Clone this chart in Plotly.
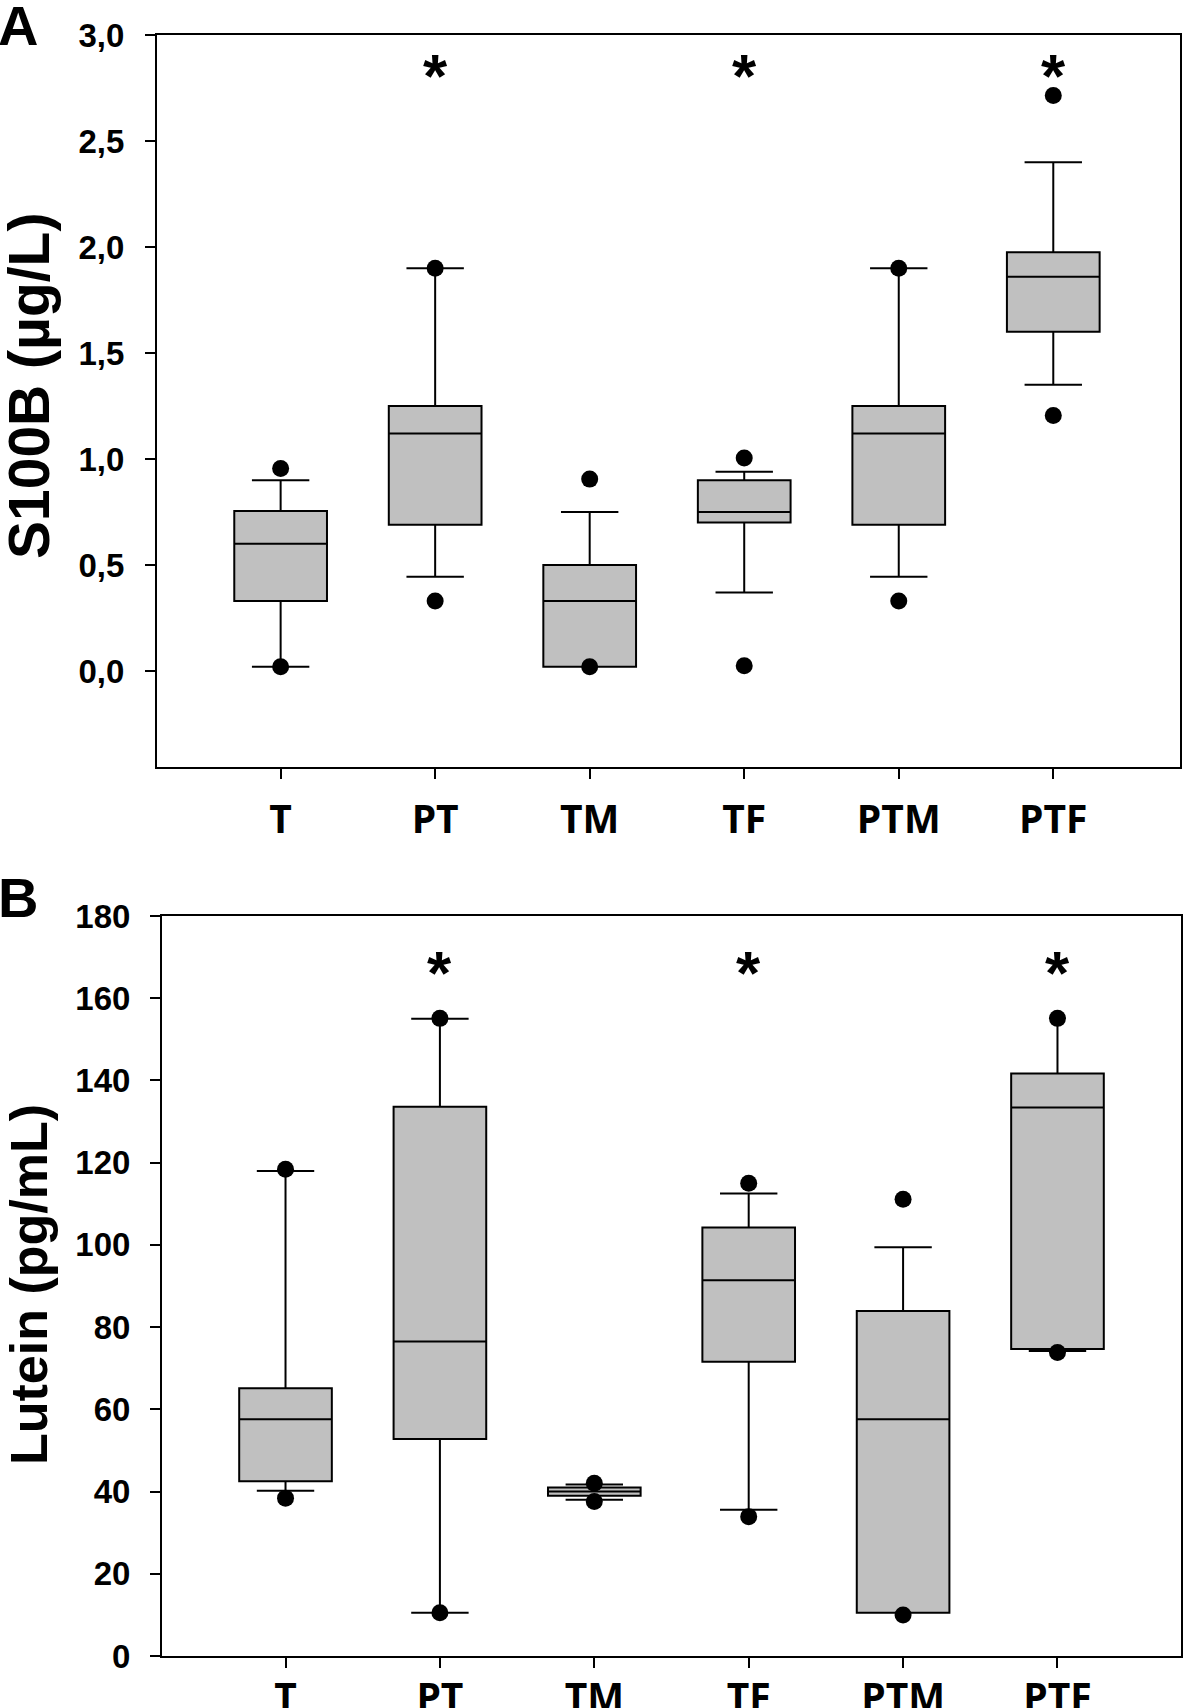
import plotly.graph_objects as go

# ---------------- data ----------------
groups = ["T", "PT", "TM", "TF", "PTM", "PTF"]

# Panel A: S100B (µg/L)
a_q1 = [0.33, 0.69, 0.02, 0.70, 0.69, 1.60]
a_med = [0.60, 1.12, 0.33, 0.75, 1.12, 1.86]
a_q3 = [0.755, 1.25, 0.50, 0.90, 1.25, 1.975]
a_lo = [0.02, 0.445, 0.02, 0.37, 0.445, 1.35]
a_hi = [0.90, 1.90, 0.75, 0.94, 1.90, 2.40]
a_cap_lo = [0.02, 0.445, None, 0.37, 0.445, 1.35]
a_cap_hi = [0.90, 1.90, 0.75, 0.94, 1.90, 2.40]
a_out = [[0.955, 0.02], [1.90, 0.33], [0.905, 0.02], [1.005, 0.025], [1.90, 0.33], [2.715, 1.205]]
a_sig = ["PT", "TF", "PTF"]
a_sig_level = 2.85
a_ticks = [0, 0.5, 1.0, 1.5, 2.0, 2.5, 3.0]
a_ticktext = ["0,0", "0,5", "1,0", "1,5", "2,0", "2,5", "3,0"]

# Panel B: Lutein (pg/mL)
b_q1 = [42.5, 52.8, 39.0, 71.6, 10.5, 74.7]
b_med = [57.6, 76.5, 40.0, 91.4, 57.6, 133.4]
b_q3 = [65.1, 133.6, 41.0, 104.2, 83.9, 141.7]
b_lo = [40.2, 10.5, 38.0, 35.6, 10.5, 74.2]
b_hi = [118.0, 155.0, 41.7, 112.5, 99.4, 155.1]
b_cap_lo = [40.2, 10.5, 38.0, 35.6, None, 74.2]
b_cap_hi = [118.0, 155.0, 41.7, 112.5, 99.4, None]
b_out = [[118.4, 38.4], [155.1, 10.5], [42.0, 37.6], [115.0, 33.9], [111.1, 10.0], [155.1, 73.8]]
b_sig = ["PT", "TF", "PTF"]
b_sig_level = 168.5
b_ticks = [0, 20, 40, 60, 80, 100, 120, 140, 160, 180]

# ---------------- layout helpers ----------------
W, H = 1184, 1708
def fx(p):
    return p / W
def fy(p):
    return 1 - p / H

NUM_FONT = "Liberation Sans, Arial, sans-serif"
CAT_FONT = "Open Sans, Liberation Sans, sans-serif"
FILL = "#c0c0c0"

fig = go.Figure()

def add_panel(xa, ya, q1, med, q3, lo, hi, cap_lo, cap_hi, outs):
    fig.add_trace(go.Box(
        x=groups, q1=q1, median=med, q3=q3, lowerfence=lo, upperfence=hi,
        width=0.6, fillcolor=FILL, line=dict(color="black", width=2),
        boxpoints=False, whiskerwidth=0, xaxis=xa, yaxis=ya,
        showlegend=False, hoverinfo="skip"))
    cx, cy = [], []
    for g, v in list(zip(groups, cap_lo)) + list(zip(groups, cap_hi)):
        if v is not None:
            cx.append(g)
            cy.append(v)
    fig.add_trace(go.Scatter(
        x=cx, y=cy, mode="markers", xaxis=xa, yaxis=ya,
        marker=dict(symbol="line-ew", size=41, color="black",
                    line=dict(color="black", width=2)),
        showlegend=False, hoverinfo="skip"))
    ox, oy = [], []
    for g, vals in zip(groups, outs):
        for v in vals:
            ox.append(g)
            oy.append(v)
    fig.add_trace(go.Scatter(
        x=ox, y=oy, mode="markers", xaxis=xa, yaxis=ya,
        marker=dict(symbol="circle", size=17, color="black", line=dict(width=0)),
        showlegend=False, hoverinfo="skip"))

add_panel("x", "y", a_q1, a_med, a_q3, a_lo, a_hi, a_cap_lo, a_cap_hi, a_out)
add_panel("x2", "y2", b_q1, b_med, b_q3, b_lo, b_hi, b_cap_lo, b_cap_hi, b_out)

common_x = dict(
    type="category", categoryorder="array", categoryarray=groups,
    range=[-0.8, 5.82], showline=True, linecolor="black", linewidth=2,
    mirror=True, ticks="outside", ticklen=10, tickwidth=2, tickcolor="black",
    tickfont=dict(family=CAT_FONT, size=39, color="black", weight="bold"),
    showgrid=False, zeroline=False, automargin=False, fixedrange=True)
common_y = dict(
    showline=True, linecolor="black", linewidth=2, mirror=True,
    ticks="outside", ticklen=10, tickwidth=2, tickcolor="black",
    tickfont=dict(family=NUM_FONT, size=33, color="black", weight="bold"),
    showgrid=False, zeroline=False, automargin=False, fixedrange=True)

fig.update_layout(
    width=W, height=H, template="none",
    margin=dict(l=0, r=0, t=0, b=0),
    paper_bgcolor="white", plot_bgcolor="white",
    xaxis=dict(common_x, domain=[fx(157), fx(1180)], anchor="y",
               ticklabelstandoff=7),
    yaxis=dict(common_y, domain=[fy(767), fy(35)], anchor="x",
               range=[-0.453, 3.0], tickvals=a_ticks, ticktext=a_ticktext,
               ticklabelstandoff=14),
    xaxis2=dict(common_x, domain=[fx(162), fx(1181)], anchor="y2",
                range=[-0.8, 5.8], ticklabelstandoff=-4),
    yaxis2=dict(common_y, domain=[fy(1656), fy(916)], anchor="x2",
                range=[0, 180], tickvals=b_ticks,
                ticktext=[str(t) for t in b_ticks], ticklabelstandoff=13),
)

ann = []
for g in a_sig:
    ann.append(dict(x=g, y=a_sig_level, xref="x", yref="y", text="*",
                    showarrow=False, yshift=-9,
                    font=dict(family=NUM_FONT, size=62, color="black", weight="bold")))
for g in b_sig:
    ann.append(dict(x=g, y=b_sig_level, xref="x2", yref="y2", text="*",
                    showarrow=False, yshift=-9,
                    font=dict(family=NUM_FONT, size=62, color="black", weight="bold")))
# axis titles
ann.append(dict(x=fx(29), y=fy(386), xref="paper", yref="paper",
                text="S100B (µg/L)", textangle=-90, showarrow=False,
                xanchor="center", yanchor="middle",
                font=dict(family=NUM_FONT, size=57, color="black", weight="bold")))
ann.append(dict(x=fx(29), y=fy(1285), xref="paper", yref="paper",
                text="Lutein (pg/mL)", textangle=-90, showarrow=False,
                xanchor="center", yanchor="middle",
                font=dict(family=NUM_FONT, size=52, color="black", weight="bold")))
# panel letters
ann.append(dict(x=0, y=fy(-8), xref="paper", yref="paper", text="A",
                showarrow=False, xanchor="left", yanchor="top", xshift=-4,
                font=dict(family=NUM_FONT, size=56, color="black", weight="bold")))
ann.append(dict(x=0, y=fy(864), xref="paper", yref="paper", text="B",
                showarrow=False, xanchor="left", yanchor="top", xshift=-4,
                font=dict(family=NUM_FONT, size=56, color="black", weight="bold")))
fig.update_layout(annotations=ann)

fig.write_html("out.html", config=dict(displayModeBar=False),
               post_script="document.body.style.margin='0';")
